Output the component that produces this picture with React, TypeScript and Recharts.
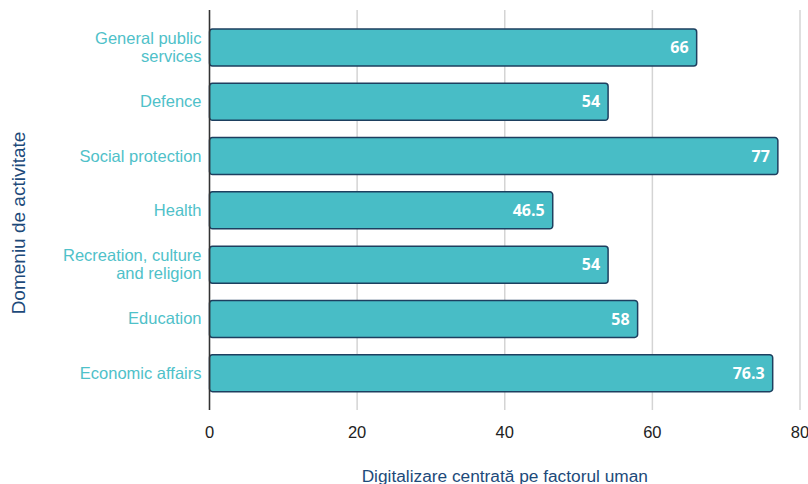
import React from "react";
import { BarChart, Bar, XAxis, YAxis, CartesianGrid, LabelList } from "recharts";

const categories = [
  "General public services",
  "Defence",
  "Social protection",
  "Health",
  "Recreation, culture and religion",
  "Education",
  "Economic affairs",
];
const values = [66, 54, 77, 46.5, 54, 58, 76.3];
const xTicks = [0, 20, 40, 60, 80];

const data = categories.map((c, i) => ({ name: c, value: values[i] }));

const FONT = "Liberation Sans, Arial, sans-serif";

function wrapWords(s: string, maxChars: number): string[] {
  const words = s.split(" ");
  const lines: string[] = [];
  let cur = "";
  for (const w of words) {
    const next = cur ? cur + " " + w : w;
    if (next.length > maxChars && cur) {
      lines.push(cur);
      cur = w;
    } else {
      cur = next;
    }
  }
  if (cur) lines.push(cur);
  return lines;
}

const CategoryTick = (props: any) => {
  const { x, y, payload } = props;
  const lines = wrapWords(String(payload.value), 20);
  const lh = 18;
  const fs = 16.5;
  const first = y - ((lines.length - 1) * lh) / 2 + fs * 0.355;
  return (
    <text
      x={x}
      y={first}
      textAnchor="end"
      fill="#4fc1c9"
      style={{ fontFamily: FONT, fontSize: fs }}
    >
      {lines.map((l, i) => (
        <tspan key={i} x={x} y={first + i * lh}>
          {l}
        </tspan>
      ))}
    </text>
  );
};

const NumTick = (props: any) => {
  const { x, y, payload } = props;
  return (
    <text
      x={x}
      y={y + 20}
      textAnchor="middle"
      fill="#222"
      style={{ fontFamily: FONT, fontSize: 16.5 }}
    >
      {payload.value}
    </text>
  );
};

const YLabel = () => {
  const cx = 18;
  const cy = 223;
  return (
    <text
      x={cx}
      y={cy}
      transform={`rotate(-90, ${cx}, ${cy})`}
      textAnchor="middle"
      dominantBaseline="central"
      fill="#1d4a7a"
      style={{ fontFamily: FONT, fontSize: 19 }}
    >
      Domeniu de activitate
    </text>
  );
};

export default function App() {
  return (
    <div style={{ position: "absolute", left: 0, top: 0, background: "#fff" }}>
      <BarChart
        width={808}
        height={484}
        data={data}
        layout="vertical"
        margin={{ top: 10, right: 8, bottom: 0, left: 0 }}
        barSize={37}
      >
        <CartesianGrid horizontal={false} vertical={true} stroke="#d4d4d4" strokeWidth={1.5} />
        <XAxis
          type="number"
          domain={[0, 80]}
          ticks={xTicks}
          axisLine={false}
          tickLine={false}
          height={74}
          tick={<NumTick />}
          label={{
            value: "Digitalizare centrată pe factorul uman",
            position: "insideBottom",
            offset: 2,
            fill: "#1d4a7a",
            style: { fontFamily: FONT, fontSize: 17.3 },
          }}
        />
        <YAxis
          type="category"
          dataKey="name"
          width={209.5}
          padding={{ top: 10, bottom: 10 }}
          axisLine={{ stroke: "#333", strokeWidth: 1.5 }}
          tickLine={false}
          tick={<CategoryTick />}
          interval={0}
          label={<YLabel />}
        />
        <Bar
          dataKey="value"
          fill="#48bdc6"
          stroke="#1d3f5f"
          strokeWidth={1.5}
          radius={3}
          isAnimationActive={false}
        >
          <LabelList
            dataKey="value"
            position="insideRight"
            offset={8}
            fill="#ffffff"
            style={{ fontFamily: "Open Sans, sans-serif", fontSize: 16, fontWeight: 700 }}
          />
        </Bar>
      </BarChart>
    </div>
  );
}
